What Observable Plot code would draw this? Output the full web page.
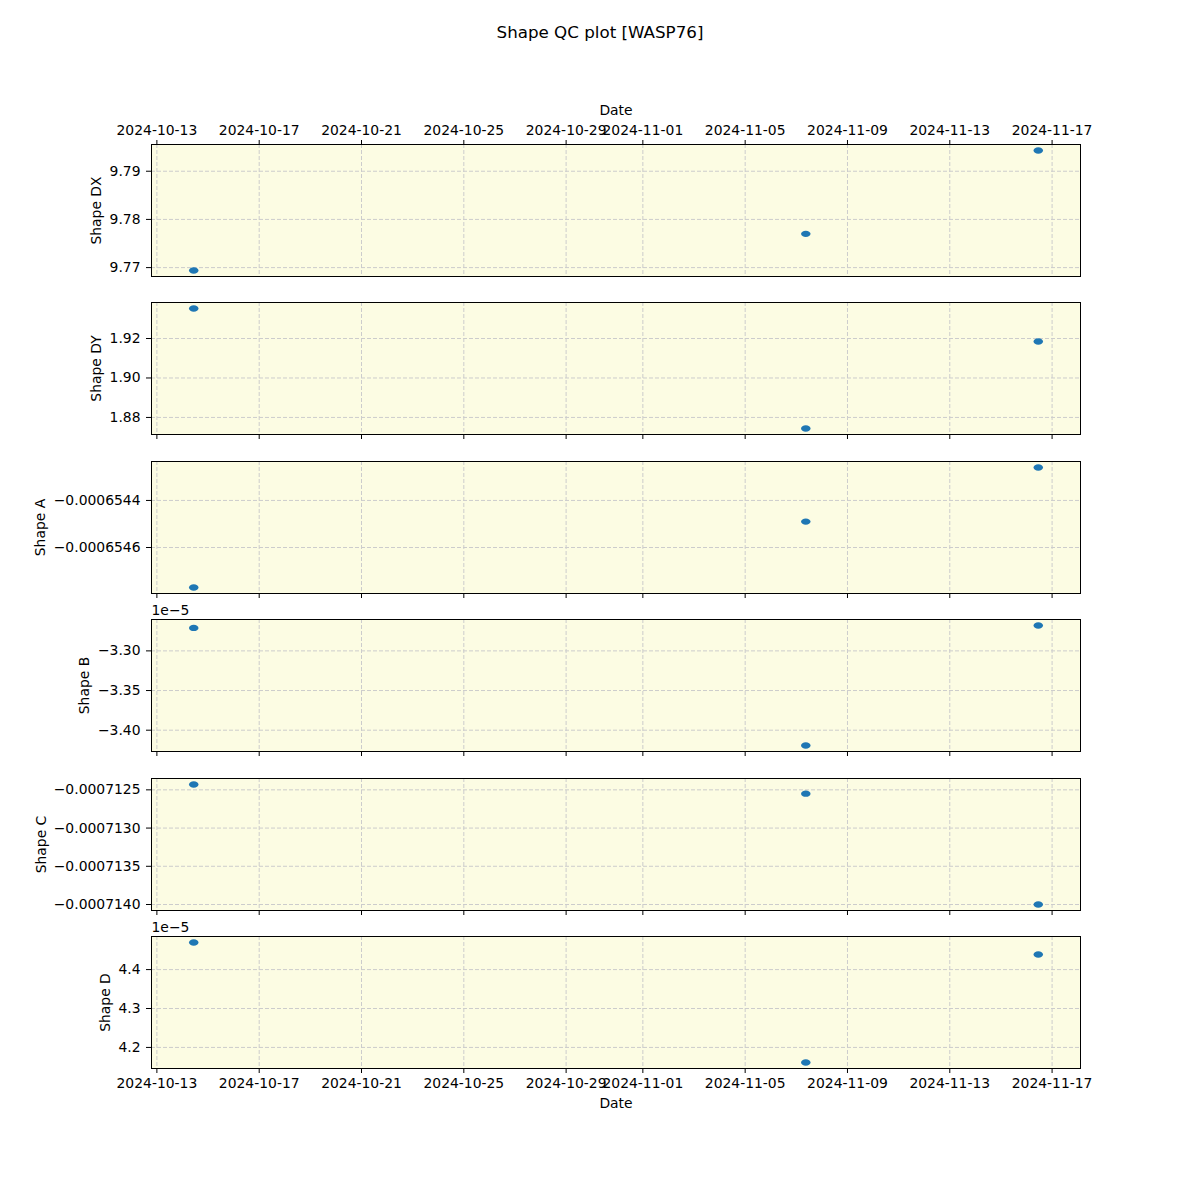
<!DOCTYPE html>
<html><head><meta charset="utf-8">
<script src="https://cdn.jsdelivr.net/npm/d3@7"></script>
<script src="https://cdn.jsdelivr.net/npm/@observablehq/plot@0.6"></script>
<style>
body{margin:0;background:#fff;font-family:"DejaVu Sans";}
#wrap{position:relative;width:1200px;height:1200px;overflow:hidden;}
#title{position:absolute;top:22px;left:0;width:1200px;text-align:center;font-size:16.7px;color:#000;line-height:20px;}
.panel{position:absolute;left:0;}
</style></head><body>
<div id="wrap"><div id="title">Shape QC plot [WASP76]</div></div>
<script>
// ---- data ----
const dates = ["2024-10-14T10:34:00Z", "2024-11-07T08:53:00Z", "2024-11-16T11:02:00Z"];
const shapeDX = [9.7694, 9.7770, 9.7943];
const shapeDY = [1.9352, 1.8744, 1.9185];
const shapeA = [-0.00065477, -0.00065449, -0.00065426];
const shapeB = [-3.271e-5, -3.4193e-5, -3.268e-5];
const shapeC = [-0.00071243, -0.00071255, -0.0007140];
const shapeD = [4.4696e-5, 4.1613e-5, 4.4387e-5];

const xTickLabels = ["2024-10-13","2024-10-17","2024-10-21","2024-10-25","2024-10-29","2024-11-01","2024-11-05","2024-11-09","2024-11-13","2024-11-17"];
const ticksDX = [9.77, 9.78, 9.79];
const ticksDY = [1.88, 1.90, 1.92];
const ticksA = [-0.0006546, -0.0006544];
const ticksB = [-3.40e-5, -3.35e-5, -3.30e-5];
const ticksC = [-0.0007140, -0.0007135, -0.0007130, -0.0007125];
const ticksD = [4.2e-5, 4.3e-5, 4.4e-5];

// ---- styling ----
const bg = "#fcfce3";
const gridColor = "#cccccc";
const dash = "4,2";
const dotColor = "#1f77b4";
const minus = s => s.replace(/-/g, "\u2212");
const fmtDate = d3.utcFormat("%Y-%m-%d");

const xTicks = xTickLabels.map(s => new Date(s + "T00:00:00Z"));
const dateObjs = dates.map(d => new Date(d));
const [t0, t1] = d3.extent(dateObjs);
const tpad = (t1 - t0) * 0.05;
const xDomain = [new Date(+t0 - tpad), new Date(+t1 + tpad)];

const ellipse = {
  draw(ctx, size) {
    const r = Math.sqrt(size / Math.PI), rx = r * 1.08, ry = r * 0.72, k = 0.5523;
    ctx.moveTo(rx, 0);
    ctx.bezierCurveTo(rx, ry * k, rx * k, ry, 0, ry);
    ctx.bezierCurveTo(-rx * k, ry, -rx, ry * k, -rx, 0);
    ctx.bezierCurveTo(-rx, -ry * k, -rx * k, -ry, 0, -ry);
    ctx.bezierCurveTo(rx * k, -ry, rx, -ry * k, rx, 0);
    ctx.closePath();
  }
};

const panels = [
  {label: "Shape DX", values: shapeDX, ticks: ticksDX, fmt: d => minus(d.toFixed(2)), labelX: 96, top: 144, mode: "top"},
  {label: "Shape DY", values: shapeDY, ticks: ticksDY, fmt: d => minus(d.toFixed(2)), labelX: 96, top: 302, mode: "mid"},
  {label: "Shape A", values: shapeA, ticks: ticksA, fmt: d => minus(d.toFixed(7)), labelX: 40, top: 461, mode: "mid"},
  {label: "Shape B", values: shapeB, ticks: ticksB, fmt: d => minus((d / 1e-5).toFixed(2)), labelX: 84, top: 619, mode: "mid", offset: "1e\u22125"},
  {label: "Shape C", values: shapeC, ticks: ticksC, fmt: d => minus(d.toFixed(7)), labelX: 41, top: 778, mode: "mid"},
  {label: "Shape D", values: shapeD, ticks: ticksD, fmt: d => minus((d / 1e-5).toFixed(1)), labelX: 105, top: 936, mode: "bottom", offset: "1e\u22125"}
];

const AX_LEFT = 151, AX_RIGHT = 1080, AX_H = 132;
const wrap = document.getElementById("wrap");

for (const p of panels) {
  const data = dateObjs.map((d, i) => ({date: d, value: p.values[i]}));
  const [lo, hi] = d3.extent(p.values);
  const pad = (hi - lo) * 0.05;
  const mt = p.mode === "top" ? 60 : 20;
  const mb = p.mode === "bottom" ? 50 : 8;
  const marks = [
    Plot.frame({fill: bg}),
    Plot.gridX(xTicks, {stroke: gridColor, strokeOpacity: 1, strokeWidth: 1, strokeDasharray: dash}),
    Plot.gridY(p.ticks, {stroke: gridColor, strokeOpacity: 1, strokeWidth: 1, strokeDasharray: dash}),
    Plot.dot(data, {x: "date", y: "value", fill: dotColor, stroke: null, r: 4.4, symbol: ellipse}),
    Plot.frame({stroke: "black", strokeWidth: 1}),
    Plot.axisY(p.ticks, {tickSize: 5, tickPadding: 6, tickFormat: p.fmt, label: null}),
    Plot.text([p.label], {frameAnchor: "left", rotate: -90, dx: p.labelX - AX_LEFT, lineAnchor: "middle", textAnchor: "middle", fill: "black"})
  ];
  if (p.mode === "top") {
    marks.push(Plot.axisX(xTicks, {anchor: "top", tickSize: 5, tickPadding: 5, tickFormat: fmtDate, label: null}));
    marks.push(Plot.text(["Date"], {frameAnchor: "top", dy: -34, lineAnchor: "middle", fill: "black"}));
  } else {
    marks.push(Plot.axisX(xTicks, {anchor: "bottom", tickSize: 5, tickPadding: 5, tickFormat: p.mode === "bottom" ? fmtDate : () => "", label: null}));
  }
  if (p.mode === "bottom") {
    marks.push(Plot.text(["Date"], {frameAnchor: "bottom", dy: 35, lineAnchor: "middle", fill: "black"}));
  }
  if (p.offset) {
    marks.push(Plot.text([p.offset], {frameAnchor: "top-left", dy: -9, lineAnchor: "middle", textAnchor: "start", fill: "black"}));
  }
  const svg = Plot.plot({
    width: 1200,
    height: mt + AX_H + mb,
    marginLeft: AX_LEFT,
    marginRight: 1200 - AX_RIGHT,
    marginTop: mt,
    marginBottom: mb,
    x: {type: "utc", domain: xDomain},
    y: {domain: [lo - pad, hi + pad]},
    style: {fontFamily: "DejaVu Sans", fontSize: "13.9px", color: "black", background: "transparent", overflow: "visible"},
    marks
  });
  svg.classList.add("panel");
  svg.style.position = "absolute";
  svg.style.top = (p.top - mt) + "px";
  svg.style.left = "0px";
  wrap.appendChild(svg);
}
</script>
</body></html>
